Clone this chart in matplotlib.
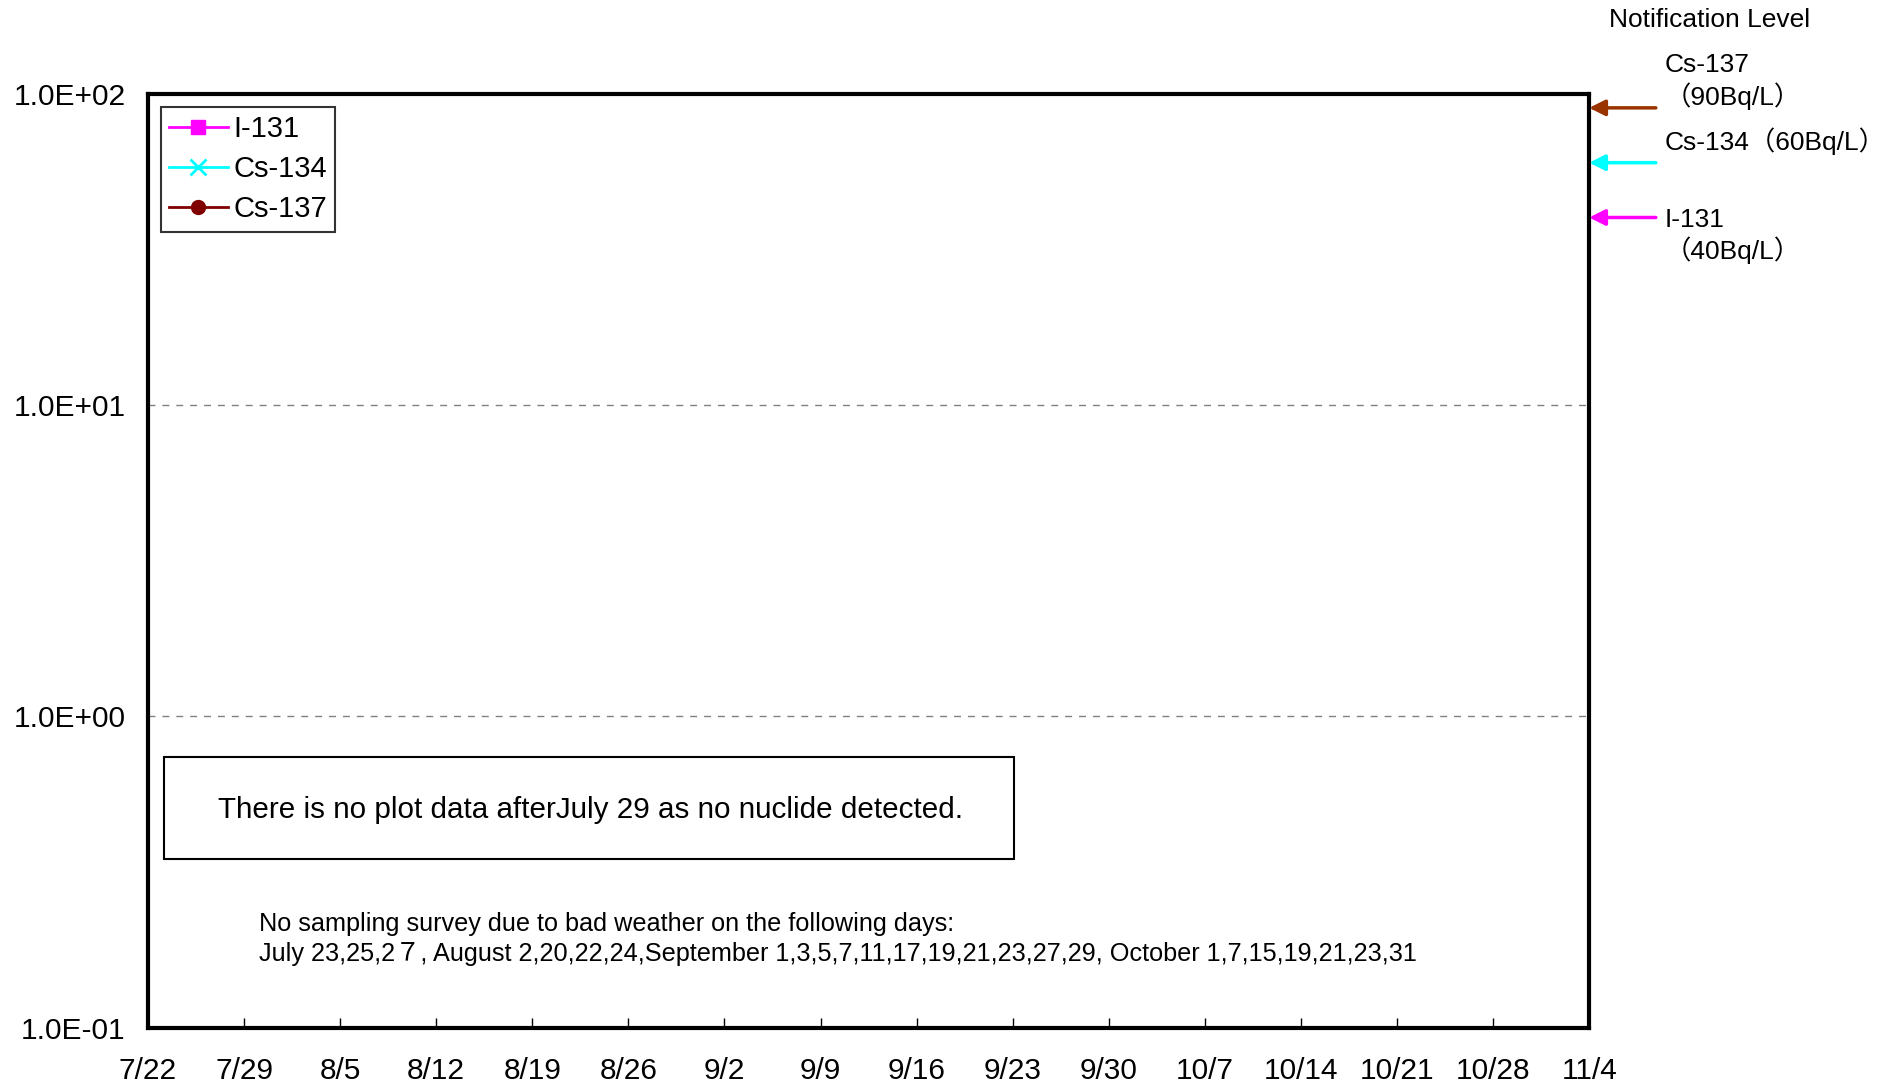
import numpy as np
import pandas as pd
import matplotlib
matplotlib.use('Agg')
import matplotlib.pyplot as plt
from matplotlib.patches import Rectangle
import matplotlib.transforms as mtransforms

# Set plot text format
plt.rcParams['font.family'] = ['Liberation Sans', 'Noto Sans CJK JP', 'DejaVu Sans']

# Series data (no nuclide detected after July 29 -> nothing to plot)
i131_dates = []
i131_vals = []
cs134_dates = []
cs134_vals = []
cs137_dates = []
cs137_vals = []

# Notification levels [Bq/L]
levels = {'Cs-137': 90, 'Cs-134': 60, 'I-131': 40}
level_colors = {'Cs-137': '#993300', 'Cs-134': '#00FFFF', 'I-131': '#FF00FF'}

# Axis setup
start = pd.Timestamp('2011-07-22')
end = pd.Timestamp('2011-11-04')
tick_dates = pd.date_range(start, end, freq='7D')
tick_labels = ['7/22', '7/29', '8/5', '8/12', '8/19', '8/26', '9/2', '9/9',
               '9/16', '9/23', '9/30', '10/7', '10/14', '10/21', '10/28', '11/4']
y_ticks = [0.1, 1, 10, 100]
y_labels = ['1.0E-01', '1.0E+00', '1.0E+01', '1.0E+02']

note_main = 'There is no plot data afterJuly 29 as no nuclide detected.'
note_days = ('No sampling survey due to bad weather on the following days:\n'
             'July 23,25,2\uff17, August 2,20,22,24,September 1,3,5,7,11,17,19,21,23,27,29, '
             'October 1,7,15,19,21,23,31')

fig = plt.figure(figsize=(18.95, 10.86), dpi=100)
ax = fig.add_axes([0.0781, 0.0538, 0.7605, 0.8600])

ax.plot(i131_dates, i131_vals, color='#FF00FF', marker='s', markersize=10, lw=2, label='I-131')
ax.plot(cs134_dates, cs134_vals, color='#00FFFF', marker='x', markersize=11, mew=2, lw=2, label='Cs-134')
ax.plot(cs137_dates, cs137_vals, color='#800000', marker='o', markersize=10, lw=2, label='Cs-137')

ax.set_yscale('log')
ax.set_ylim(0.1, 100)
ax.set_xlim(start, end)
ax.set_yticks(y_ticks)
ax.set_yticklabels(y_labels)
ax.yaxis.set_minor_locator(matplotlib.ticker.NullLocator())
ax.set_xticks(tick_dates)
ax.set_xticklabels(tick_labels)

ax.tick_params(axis='x', direction='in', length=7, width=1, labelsize=21.5, pad=21)
ax.tick_params(axis='y', length=0, labelsize=21.5, pad=16)

for s in ax.spines.values():
    s.set_linewidth(3)
    s.set_color('black')

for yv in [1, 10]:
    ax.axhline(yv, color='#808080', lw=1, ls=(0, (5, 5)))

leg = ax.legend(loc='upper left', fontsize=21, frameon=True, fancybox=False,
                edgecolor='black', handlelength=2.0, handletextpad=0.2,
                labelspacing=0.42, borderpad=0.28, borderaxespad=0.45,
                bbox_to_anchor=(0.0, 1.0))
leg.get_frame().set_linewidth(1.5)

# Note box
ax.add_patch(Rectangle((0.011, 0.181), 0.590, 0.109, transform=ax.transAxes,
                       fill=False, edgecolor='black', lw=1.5))
ax.text(0.307, 0.233, note_main, transform=ax.transAxes, fontsize=21.3,
        ha='center', va='center')
ax.text(0.077, 0.095, note_days, transform=ax.transAxes, fontsize=18.2,
        ha='left', va='center', linespacing=1.3)

# Notification level arrows on the right edge
trans = mtransforms.blended_transform_factory(ax.transAxes, ax.transData)
for name, val in levels.items():
    ax.annotate('', xy=(1.0, val), xycoords=trans,
                xytext=(48, 0), textcoords='offset points',
                arrowprops=dict(arrowstyle='-|>', color=level_colors[name], lw=2.5,
                                mutation_scale=24, shrinkA=0, shrinkB=0))

fig.text(0.902, 0.982, 'Notification Level', fontsize=19, ha='center', va='center')
fig.text(0.8786, 0.940, 'Cs-137', fontsize=19, ha='left', va='center')
fig.text(0.8786, 0.911, '\uff0890Bq/L\uff09', fontsize=19, ha='left', va='center')
fig.text(0.8786, 0.870, 'Cs-134\uff0860Bq/L\uff09', fontsize=19, ha='left', va='center')
fig.text(0.8786, 0.797, 'I-131', fontsize=19, ha='left', va='center')
fig.text(0.8786, 0.770, '\uff0840Bq/L\uff09', fontsize=19, ha='left', va='center')

fig.savefig('out.png', dpi=100)
